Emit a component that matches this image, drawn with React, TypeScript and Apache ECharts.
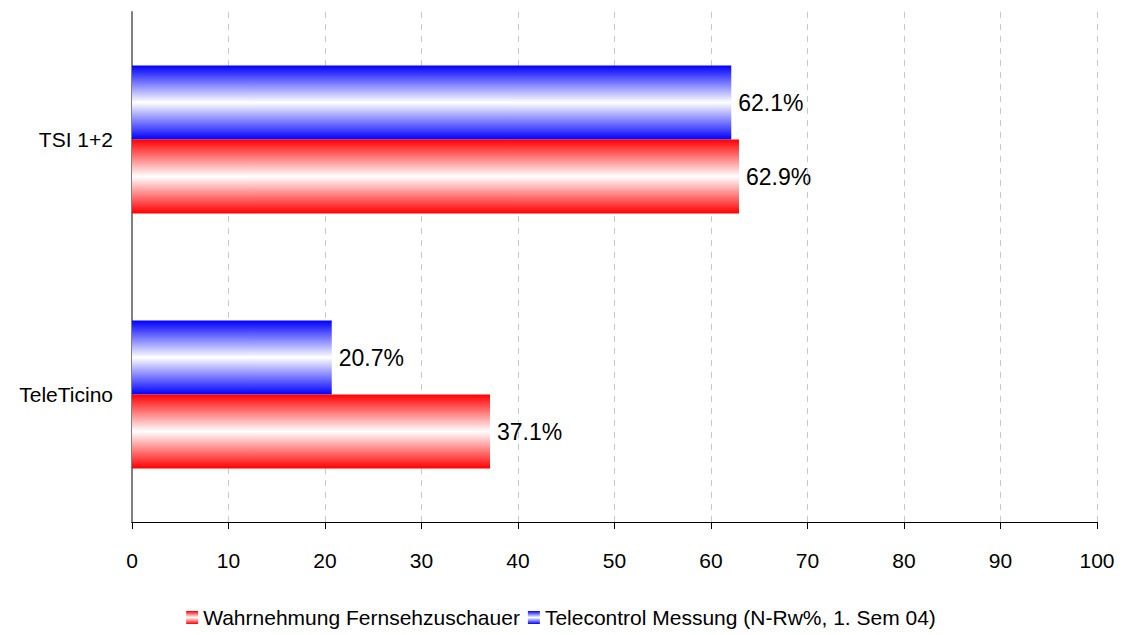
import React, { useEffect, useRef } from "react";
import * as echarts from "echarts";

const categories = ["TeleTicino", "TSI 1+2"];
const seriesNames = [
  "Wahrnehmung Fernsehzuschauer",
  "Telecontrol Messung (N-Rw%, 1. Sem 04)",
];
const perceptionValues = [37.1, 62.9];
const telecontrolValues = [20.7, 62.1];
const xTicks = { min: 0, max: 100, interval: 10 };

const FONT = "'Liberation Sans', Arial, sans-serif";

// vertical colour -> white -> colour fade across the bar thickness
function fade(color: string) {
  return new echarts.graphic.LinearGradient(0, 0, 0, 1, [
    { offset: 0, color },
    { offset: 0.5, color: "#ffffff" },
    { offset: 1, color },
  ]);
}

export default function App() {
  const ref = useRef<HTMLDivElement>(null);

  useEffect(() => {
    document.body.style.margin = "0";
    const chart = echarts.init(ref.current!, null, { renderer: "svg" });
    const label = {
      show: true,
      position: "right" as const,
      distance: 7,
      fontFamily: FONT,
      fontSize: 23,
      color: "#000",
      formatter: (p: any) => p.value.toFixed(1) + "%",
    };
    chart.setOption({
      animation: false,
      backgroundColor: "#ffffff",
      grid: { left: 132, right: 25, top: 12, bottom: 113, containLabel: false },
      legend: {
        bottom: 2,
        left: "center",
        icon: "rect",
        itemWidth: 12,
        itemHeight: 13,
        itemGap: 8,
        textStyle: { fontFamily: FONT, fontSize: 21, color: "#000" },
        data: seriesNames,
      },
      xAxis: {
        type: "value",
        min: xTicks.min,
        max: xTicks.max,
        interval: xTicks.interval,
        axisLine: { show: true, lineStyle: { color: "#000", width: 1 } },
        axisTick: { show: true, length: 7, lineStyle: { color: "#000" } },
        axisLabel: { fontFamily: FONT, fontSize: 21, color: "#000", margin: 28 },
        splitLine: { show: true, lineStyle: { color: "#c8c8c8", type: [6, 6], width: 1 } },
      },
      yAxis: {
        type: "category",
        data: categories,
        axisLine: { show: true, lineStyle: { color: "#808080", width: 2 } },
        axisTick: { show: false },
        axisLabel: { fontFamily: FONT, fontSize: 21, color: "#000", margin: 19 },
        splitLine: { show: false },
      },
      // the measured series is listed first so it sits above the perceived one
      series: [
        {
          name: seriesNames[1],
          type: "bar",
          data: telecontrolValues,
          barWidth: 74,
          barGap: "0%",
          itemStyle: { color: fade("#0000ff") },
          label,
        },
        {
          name: seriesNames[0],
          type: "bar",
          data: perceptionValues,
          barWidth: 74,
          barGap: "0%",
          itemStyle: { color: fade("#ff0000") },
          label,
        },
      ],
    });
    return () => chart.dispose();
  }, []);

  return <div ref={ref} style={{ width: 1122, height: 635 }} />;
}
